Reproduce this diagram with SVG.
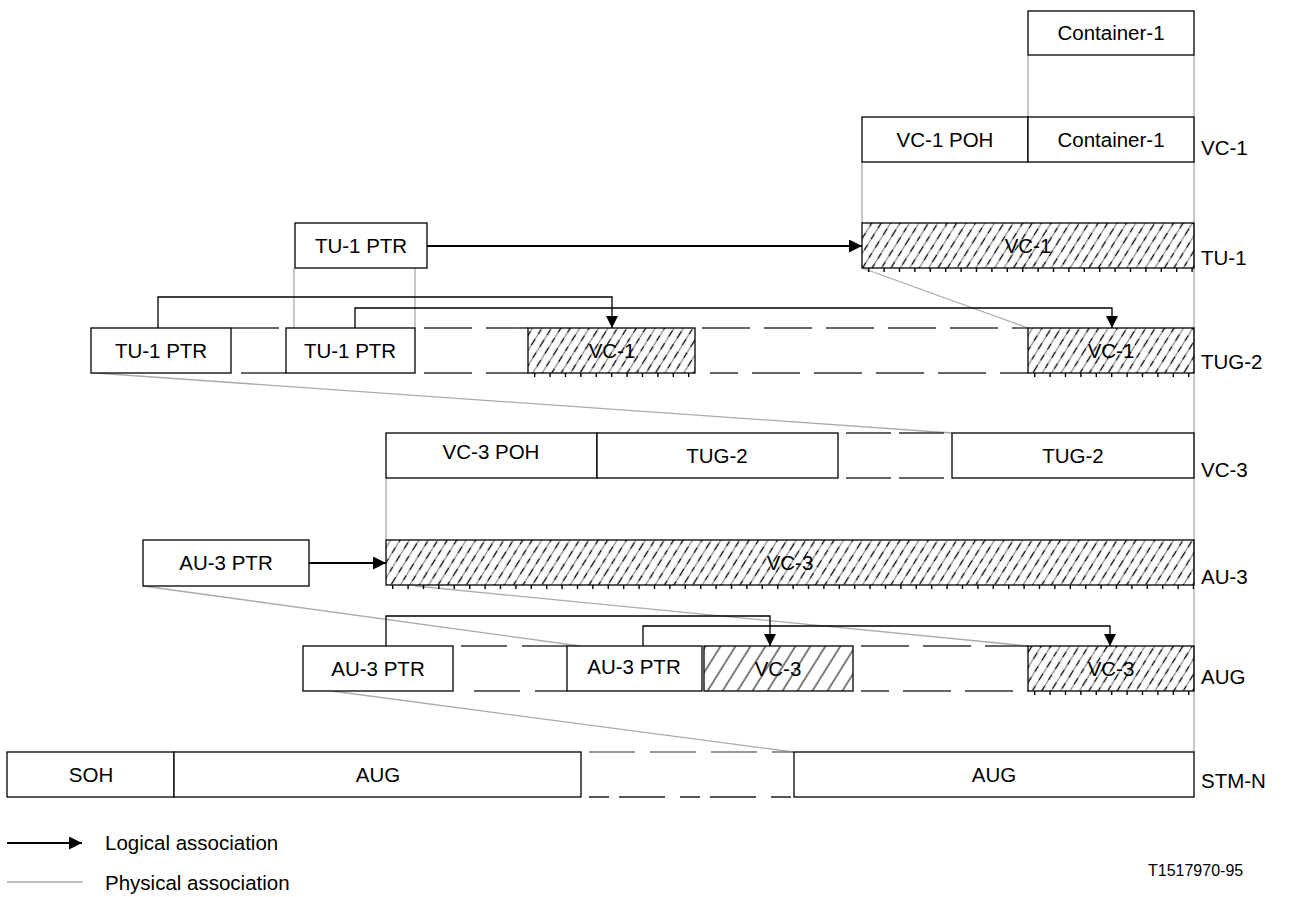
<svg xmlns="http://www.w3.org/2000/svg" width="1292" height="897" viewBox="0 0 1292 897">
<defs>
<style>
.box{fill:#fff;stroke:#000;stroke-width:1.3}
.hA{fill:url(#hatchA);stroke:#000;stroke-width:1.3}
.hB{fill:url(#hatchB);stroke:#000;stroke-width:1.3}
.t{font-family:"Liberation Sans",Arial,sans-serif;font-size:20.5px;fill:#000;text-anchor:middle}
.lbl{font-family:"Liberation Sans",Arial,sans-serif;font-size:20.5px;fill:#000}
.note{font-family:"Liberation Sans",Arial,sans-serif;font-size:16px;fill:#000}
.phys{stroke:#aaa;stroke-width:1.3;fill:none}
.log{stroke:#000;stroke-width:1.3;fill:none;marker-end:url(#ah)}
.main{stroke:#000;stroke-width:2.2;fill:none;marker-end:url(#ah2)}
.dash{stroke:#333;stroke-width:1.4;stroke-dasharray:48 14;fill:none}
.ticks{stroke:#000;stroke-width:4;stroke-dasharray:1.4 14;fill:none}
.hg{stroke:#8c8c8c;stroke-width:1.3}
.hk{stroke:#000;stroke-width:1.2}
</style>
<pattern id="hatchA" width="16" height="40" patternUnits="userSpaceOnUse" patternTransform="rotate(32)">
<line class="hg" x1="1.5" y1="0" x2="1.5" y2="40"/>
<line class="hg" x1="9.5" y1="0" x2="9.5" y2="40"/>
<line class="hk" x1="1.5" y1="0" x2="1.5" y2="8"/>
<line class="hk" x1="1.5" y1="15" x2="1.5" y2="21"/>
<line class="hk" x1="1.5" y1="28" x2="1.5" y2="34"/>
<line class="hk" x1="9.5" y1="4" x2="9.5" y2="11"/>
<line class="hk" x1="9.5" y1="19" x2="9.5" y2="26"/>
<line class="hk" x1="9.5" y1="33" x2="9.5" y2="38"/>
</pattern>
<pattern id="hatchB" width="12.7" height="12.7" patternUnits="userSpaceOnUse" patternTransform="rotate(32)">
<line x1="1" y1="0" x2="1" y2="12.7" stroke="#000" stroke-width="1"/>
</pattern>
<marker id="ah" viewBox="0 0 12 12" refX="12" refY="6" markerWidth="12" markerHeight="12" markerUnits="userSpaceOnUse" orient="auto">
<path d="M0,0 L12,6 L0,12 Z" fill="#000"/>
</marker>
<marker id="ah2" viewBox="0 0 13 13" refX="13" refY="6.5" markerWidth="13" markerHeight="13" markerUnits="userSpaceOnUse" orient="auto">
<path d="M0,0 L13,6.5 L0,13 Z" fill="#000"/>
</marker>
</defs>
<rect width="1292" height="897" fill="#fff"/>

<g id="connectors">
<line class="phys" x1="1028" y1="55" x2="1028" y2="117"/>
<line class="phys" x1="1194" y1="55" x2="1194" y2="752"/>
<line class="phys" x1="862" y1="162" x2="862" y2="223"/>
<line class="phys" x1="862" y1="268" x2="1028" y2="328"/>
<line class="phys" x1="294" y1="268" x2="294" y2="328"/>
<line class="phys" x1="415" y1="268" x2="415" y2="328"/>
<line class="phys" x1="95" y1="373" x2="952" y2="433"/>
<line class="phys" x1="386" y1="478" x2="386" y2="540"/>
<line class="phys" x1="143" y1="586" x2="580" y2="646"/>
<line class="phys" x1="415" y1="586" x2="1028" y2="646"/>
<line class="phys" x1="332" y1="691" x2="793" y2="752"/>
<line class="dash" x1="231" y1="328" x2="286" y2="328"/>
<line class="dash" x1="241" y1="373" x2="286" y2="373"/>
<line class="dash" x1="424" y1="328" x2="528" y2="328"/>
<line class="dash" x1="424" y1="373" x2="528" y2="373"/>
<line class="dash" x1="702" y1="328" x2="1028" y2="328"/>
<line class="dash" x1="710" y1="373" x2="1028" y2="373" style="stroke-dashoffset:20"/>
<line class="dash" x1="846" y1="433" x2="952" y2="433" style="stroke-dasharray:45 8"/>
<line class="dash" x1="846" y1="478" x2="952" y2="478" style="stroke-dasharray:45 8"/>
<line class="dash" x1="461" y1="646" x2="567" y2="646" style="stroke-dasharray:46 15"/>
<line class="dash" x1="474" y1="691" x2="567" y2="691" style="stroke-dasharray:46 15"/>
<line class="dash" x1="861" y1="646" x2="1028" y2="646"/>
<line class="dash" x1="861" y1="691" x2="1028" y2="691" style="stroke-dashoffset:20"/>
<line class="dash" x1="589" y1="752" x2="794" y2="752" style="stroke:#777;stroke-dasharray:46 15"/>
<line class="dash" x1="589" y1="797" x2="794" y2="797" style="stroke:#555;stroke-width:2;stroke-dasharray:20 10 46 15"/>
<line class="main" x1="427" y1="246" x2="862" y2="246"/>
<line class="main" x1="309" y1="563" x2="386" y2="563"/>
<path class="log" d="M158,328 V297 H612 V328"/>
<path class="log" d="M355,328 V308 H1112 V328"/>
<path class="log" d="M386,646 V616 H770 V646"/>
<path class="log" d="M643,646 V626 H1110 V646"/>
</g>

<g id="container1-top">
<rect class="box" x="1028" y="11" width="166" height="44"/>
<text class="t" x="1111" y="40">Container-1</text>
</g>

<g id="vc1">
<rect class="box" x="862" y="117" width="166" height="45"/>
<rect class="box" x="1028" y="117" width="166" height="45"/>
<text class="t" x="945" y="147">VC-1 POH</text>
<text class="t" x="1111" y="147">Container-1</text>
</g>

<g id="tu1">
<rect class="hA" x="862" y="223" width="332" height="45"/>
<line class="ticks" x1="868" y1="270" x2="1194" y2="270"/>
<text class="t" x="1028" y="253">VC-1</text>
<rect class="box" x="295" y="223" width="132" height="45"/>
<text class="t" x="361" y="253">TU-1 PTR</text>
</g>

<g id="tug2">
<rect class="box" x="91" y="328" width="140" height="45"/>
<text class="t" x="161" y="358">TU-1 PTR</text>
<rect class="box" x="286" y="328" width="129" height="45"/>
<text class="t" x="350" y="358">TU-1 PTR</text>
<rect class="hA" x="528" y="328" width="167" height="45"/>
<line class="ticks" x1="534" y1="375" x2="695" y2="375"/>
<text class="t" x="612" y="358">VC-1</text>
<rect class="hA" x="1028" y="328" width="166" height="45"/>
<line class="ticks" x1="1034" y1="375" x2="1194" y2="375"/>
<text class="t" x="1111" y="358">VC-1</text>
</g>

<g id="vc3">
<rect class="box" x="386" y="433" width="211" height="45"/>
<rect class="box" x="597" y="433" width="241" height="45"/>
<rect class="box" x="952" y="433" width="242" height="45"/>
<text class="t" x="491" y="459">VC-3 POH</text>
<text class="t" x="717" y="463">TUG-2</text>
<text class="t" x="1073" y="463">TUG-2</text>
</g>

<g id="au3">
<rect class="box" x="143" y="540" width="166" height="46"/>
<text class="t" x="226" y="570">AU-3 PTR</text>
<rect class="hA" x="386" y="540" width="808" height="45"/>
<line class="ticks" x1="392" y1="587" x2="1194" y2="587"/>
<text class="t" x="790" y="570">VC-3</text>
</g>

<g id="aug">
<rect class="box" x="303" y="646" width="150" height="45"/>
<text class="t" x="378" y="676">AU-3 PTR</text>
<rect class="box" x="567" y="646" width="135" height="45"/>
<text class="t" x="634" y="674">AU-3 PTR</text>
<rect class="hB" x="704" y="646" width="149" height="45"/>
<text class="t" x="778" y="676">VC-3</text>
<rect class="hA" x="1028" y="646" width="166" height="45"/>
<line class="ticks" x1="1034" y1="693" x2="1194" y2="693"/>
<text class="t" x="1111" y="676">VC-3</text>
</g>

<g id="stmn">
<rect class="box" x="7" y="752" width="167" height="45"/>
<rect class="box" x="174" y="752" width="407" height="45"/>
<rect class="box" x="794" y="752" width="400" height="45"/>
<text class="t" x="91" y="782">SOH</text>
<text class="t" x="378" y="782">AUG</text>
<text class="t" x="994" y="782">AUG</text>
</g>

<g id="row-labels">
<text class="lbl" x="1201" y="155">VC-1</text>
<text class="lbl" x="1201" y="265">TU-1</text>
<text class="lbl" x="1201" y="369">TUG-2</text>
<text class="lbl" x="1201" y="477">VC-3</text>
<text class="lbl" x="1201" y="584">AU-3</text>
<text class="lbl" x="1201" y="684">AUG</text>
<text class="lbl" x="1201" y="788">STM-N</text>
</g>

<g id="legend">
<line x1="7" y1="843" x2="82" y2="843" stroke="#000" stroke-width="2.2" marker-end="url(#ah2)"/>
<text class="lbl" x="105" y="850">Logical association</text>
<line x1="7" y1="882" x2="83" y2="882" stroke="#aaa" stroke-width="1.3"/>
<text class="lbl" x="105" y="890">Physical association</text>
<text class="note" x="1148" y="876">T1517970-95</text>
</g>
</svg>
